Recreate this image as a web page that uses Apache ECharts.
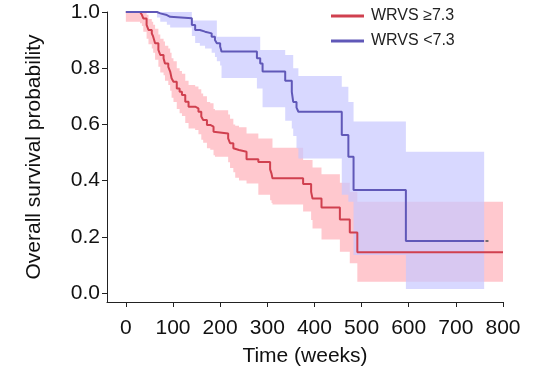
<!DOCTYPE html>
<html>
<head>
<meta charset="utf-8">
<script src="https://cdn.jsdelivr.net/npm/echarts@6/dist/echarts.min.js"></script>
<style>
  html, body { margin: 0; padding: 0; background: #fff; }
  #chart { width: 537px; height: 368px; }
</style>
</head>
<body>
<div id="chart"></div>
<script>
// WRVS >= 7.3 (red) : step times (weeks), survival, CI upper / lower
const redTime = [0, 30, 34, 37, 44, 48, 55, 58, 62, 69, 73, 80, 83, 90, 94, 97, 101, 108, 114, 119, 126, 133, 147, 154, 160, 164, 172, 179, 186, 189, 217, 221, 228, 232, 240, 256, 281, 306, 309, 311, 376, 393, 396, 415, 454, 475, 491, 800];
const redSurv = [1.0, 0.995, 0.99, 0.977, 0.954, 0.936, 0.924, 0.912, 0.889, 0.865, 0.847, 0.835, 0.817, 0.805, 0.788, 0.764, 0.752, 0.728, 0.716, 0.705, 0.681, 0.663, 0.657, 0.645, 0.628, 0.616, 0.598, 0.592, 0.574, 0.568, 0.55, 0.533, 0.515, 0.509, 0.503, 0.476, 0.466, 0.44, 0.425, 0.408, 0.388, 0.36, 0.336, 0.304, 0.262, 0.215, 0.145, 0.145];
const redUpper = [1.0, 1.0, 1.0, 1.0, 0.99, 0.975, 0.965, 0.955, 0.94, 0.92, 0.905, 0.895, 0.88, 0.87, 0.855, 0.835, 0.825, 0.80, 0.79, 0.78, 0.755, 0.74, 0.735, 0.725, 0.71, 0.70, 0.68, 0.675, 0.655, 0.65, 0.635, 0.62, 0.60, 0.595, 0.59, 0.568, 0.55, 0.55, 0.55, 0.517, 0.473, 0.473, 0.447, 0.423, 0.392, 0.36, 0.325, 0.325];
const redLower = [0.965, 0.96, 0.95, 0.93, 0.905, 0.885, 0.87, 0.855, 0.83, 0.805, 0.785, 0.775, 0.755, 0.74, 0.72, 0.695, 0.68, 0.655, 0.64, 0.63, 0.605, 0.585, 0.58, 0.565, 0.545, 0.535, 0.515, 0.51, 0.49, 0.485, 0.465, 0.445, 0.43, 0.41, 0.40, 0.39, 0.35, 0.33, 0.32, 0.315, 0.29, 0.26, 0.23, 0.19, 0.147, 0.106, 0.04, 0.04];

// WRVS < 7.3 (blue)
const blueTime = [0, 66, 73, 87, 94, 140, 147, 157, 168, 182, 189, 193, 200, 203, 278, 285, 290, 338, 352, 355, 362, 366, 458, 472, 483, 594, 760];
const blueSurv = [1.0, 0.995, 0.989, 0.983, 0.978, 0.954, 0.936, 0.93, 0.924, 0.912, 0.90, 0.889, 0.877, 0.859, 0.835, 0.817, 0.788, 0.755, 0.716, 0.68, 0.66, 0.645, 0.562, 0.485, 0.367, 0.185, 0.185];
const blueUpper = [1.0, 1.0, 1.0, 1.0, 1.0, 0.97, 0.97, 0.97, 0.97, 0.97, 0.97, 0.912, 0.912, 0.912, 0.912, 0.865, 0.865, 0.847, 0.847, 0.80, 0.80, 0.772, 0.734, 0.68, 0.61, 0.503, 0.503];
const blueLower = [1.0, 0.98, 0.965, 0.955, 0.945, 0.915, 0.89, 0.88, 0.87, 0.855, 0.84, 0.825, 0.81, 0.765, 0.728, 0.728, 0.661, 0.613, 0.585, 0.559, 0.515, 0.479, 0.35, 0.325, 0.135, 0.014, 0.014];
const blueCensor = [[766, 0.185]];

const xTicks = [0, 100, 200, 300, 400, 500, 600, 700, 800];
const yTicks = [0, 0.2, 0.4, 0.6, 0.8, 1.0];

const FONT = 'Arial, "Liberation Sans", sans-serif';

const pairs = (xs, ys) => xs.map((x, i) => [x, ys[i]]);

// confidence band as one stepped polygon, positioned with api.coord
function band(name, xs, up, lo, fill, z) {
    return {
        name: name, type: 'custom', silent: true, z: z,
        data: xs.map((x, i) => [x, up[i], lo[i]]),
        renderItem: function (params, api) {
            if (params.dataIndex !== 0) return null;
            const n = xs.length;
            const top = [], bottom = [];
            for (let i = 0; i < n - 1; i++) {
                top.push(api.coord([xs[i], up[i]]), api.coord([xs[i + 1], up[i]]));
                bottom.push(api.coord([xs[i], lo[i]]), api.coord([xs[i + 1], lo[i]]));
            }
            return {
                type: 'polygon',
                shape: { points: top.concat(bottom.reverse()) },
                style: { fill: fill, stroke: null }
            };
        }
    };
}

const chart = echarts.init(document.getElementById('chart'), null, { renderer: 'canvas' });

const axisCommon = {
    axisLine: { show: true, onZero: false, lineStyle: { color: '#222', width: 1 } },
    axisTick: { show: true, length: 5, lineStyle: { color: '#222', width: 1 } },
    splitLine: { show: false },
    nameTextStyle: { color: '#111', fontSize: 21, fontFamily: FONT }
};

const option = {
    animation: false,
    backgroundColor: '#fff',
    grid: { left: 107, right: 34, top: 12, bottom: 66, containLabel: false, outerBoundsMode: 'none' },
    legend: {
        orient: 'vertical',
        left: 326, top: 3,
        itemWidth: 33, itemHeight: 3, itemGap: 9,
        icon: 'rect',
        data: ['WRVS ≥7.3', 'WRVS <7.3'],
        textStyle: { color: '#222', fontSize: 16, fontFamily: FONT, lineHeight: 16, padding: [0, 0, 0, 2] }
    },
    xAxis: Object.assign({}, axisCommon, {
        type: 'value', min: -40, max: 800,
        name: 'Time (weeks)', nameLocation: 'middle', nameGap: 44,
        axisTick: Object.assign({}, axisCommon.axisTick, { customValues: xTicks }),
        axisLabel: { customValues: xTicks, color: '#111', fontSize: 21, fontFamily: FONT, margin: 16 }
    }),
    yAxis: Object.assign({}, axisCommon, {
        type: 'value', min: -0.032, max: 1.0,
        name: 'Overall survival probability', nameLocation: 'middle', nameGap: 62,
        axisTick: Object.assign({}, axisCommon.axisTick, { customValues: yTicks }),
        axisLabel: {
            customValues: yTicks, color: '#111', fontSize: 21, fontFamily: FONT, margin: 7,
            formatter: v => v.toFixed(1)
        }
    }),
    series: [
        band('redBand', redTime, redUpper, redLower, 'rgba(255,110,125,0.38)', 1),
        band('blueBand', blueTime, blueUpper, blueLower, 'rgba(200,200,255,0.71)', 2),
        {
            name: 'WRVS ≥7.3', type: 'line', step: 'end',
            data: pairs(redTime, redSurv), showSymbol: false, clip: false,
            itemStyle: { color: '#d0404f' },
            lineStyle: { color: '#d0404f', width: 2 }, z: 3
        },
        {
            name: 'WRVS <7.3', type: 'line', step: 'end',
            data: pairs(blueTime, blueSurv), showSymbol: false, clip: false,
            itemStyle: { color: '#6058b8' },
            lineStyle: { color: '#6058b8', width: 2 }, z: 3
        },
        {
            name: 'censor', type: 'scatter', data: blueCensor,
            symbol: 'rect', symbolSize: [3, 2],
            itemStyle: { color: '#555' }, silent: true, z: 3
        }
    ]
};

chart.setOption(option);
</script>
</body>
</html>
